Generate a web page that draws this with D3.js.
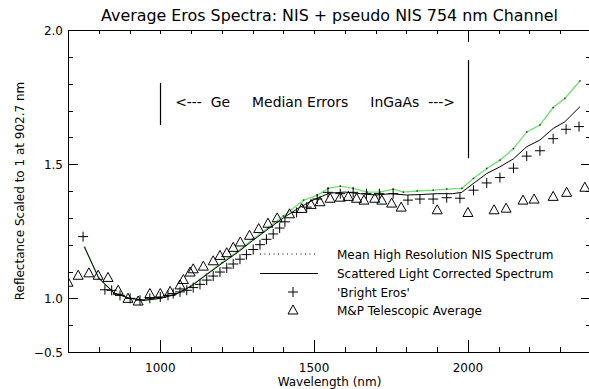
<!DOCTYPE html>
<html><head><meta charset="utf-8">
<script src="https://cdn.jsdelivr.net/npm/d3@7"></script>
<style>body{margin:0;background:#fff}svg{display:block}text{font-family:"DejaVu Sans",sans-serif;fill:#000}</style>
</head><body>
<svg id="c" width="589" height="389"></svg>
<script>
// ---- data ----
const titleText = "Average Eros Spectra: NIS + pseudo NIS 754 nm Channel";
const xLabel = "Wavelength (nm)";
const yLabel = "Reflectance Scaled to 1 at 902.7 nm";
const xTickValues = [1000, 1500, 2000];
const xTickLabels = ["1000", "1500", "2000"];
const yTickValues = [2.0, 1.5, 1.0, 0.8];
const yTickLabels = ["2.0", "1.5", "1.0", "\u22120.5"];

// Scattered light corrected spectrum (black)
const corrW = [754,800,850,900,950,1000,1050,1100,1150,1200,1250,1300,1350,1400,1450,1500,1550,1600,1650,1700,1750,1800,1850,1900,1950,1980,2020,2061,2104,2148,2191,2234,2277,2315,2364];
const corrV = [1.19,1.075,1.02,1.0,0.993,1.0,1.015,1.045,1.088,1.13,1.17,1.215,1.258,1.3,1.337,1.368,1.392,1.396,1.39,1.385,1.39,1.385,1.387,1.39,1.39,1.395,1.43,1.465,1.49,1.52,1.565,1.59,1.633,1.658,1.714];
// Mean high resolution NIS spectrum (green)
const meanW = [754,800,850,900,950,1000,1050,1100,1150,1200,1250,1300,1350,1400,1466,1510,1546,1585,1627,1672,1714,1757,1790,1835,1887,1931,1980,2018,2061,2104,2148,2191,2234,2277,2315,2364];
const meanV = [1.19,1.075,1.02,1.0,0.993,1.0,1.015,1.047,1.09,1.133,1.174,1.22,1.263,1.307,1.366,1.384,1.41,1.418,1.41,1.396,1.396,1.407,1.396,1.40,1.403,1.407,1.41,1.447,1.484,1.515,1.558,1.62,1.646,1.711,1.745,1.81];
// 'Bright Eros' (+)
const brightW = [749,820,842,869,902,934,966,1000,1025,1042,1064,1086,1107,1129,1151,1172,1194,1216,1237,1259,1280,1302,1324,1345,1367,1388,1405,1443,1476,1510,1545,1585,1627,1670,1712,1757,1805,1844,1887,1931,1974,2018,2061,2104,2148,2191,2234,2277,2319,2361];
const brightV = [1.23,1.032,1.03,1.011,1.0,0.993,1.0,1.005,1.011,1.018,1.024,1.03,1.04,1.052,1.068,1.083,1.098,1.113,1.128,1.146,1.163,1.182,1.2,1.22,1.24,1.262,1.285,1.32,1.34,1.37,1.395,1.39,1.395,1.39,1.39,1.39,1.366,1.37,1.37,1.375,1.373,1.403,1.43,1.45,1.485,1.53,1.55,1.595,1.63,1.64];
// M&P telescopic average (triangles)
const mpW = [700,733,768,798,830,863,895,928,966,1000,1032,1064,1075,1097,1107,1140,1172,1194,1216,1237,1260,1290,1320,1350,1380,1420,1460,1490,1519,1552,1585,1611,1638,1662,1697,1720,1752,1783,1900,2000,2085,2124,2179,2215,2277,2321,2380];
const mpV = [1.06,1.086,1.095,1.086,1.078,1.03,1.0,0.99,1.018,1.018,1.026,1.05,1.07,1.098,1.11,1.12,1.14,1.16,1.17,1.19,1.21,1.235,1.26,1.28,1.30,1.315,1.335,1.35,1.36,1.373,1.377,1.38,1.373,1.366,1.373,1.366,1.355,1.34,1.33,1.32,1.33,1.336,1.366,1.37,1.38,1.395,1.414];
// Median error bars
const errLabels = ["Ge", "InGaAs"];
const errW = [1000, 2000];
const errLo = [1.646, 1.522];
const errHi = [1.802, 1.888];
const errText = "<---  Ge     Median Errors     InGaAs  --->";
const legendLabels = ["Mean High Resolution NIS Spectrum", "Scattered Light Corrected Spectrum", "'Bright Eros'", "M&P Telescopic Average"];

// ---- layout ----
const svg = d3.select("#c");
const L = 68, R = 591, T = 30, B = 352;
const x = d3.scaleLinear().domain([700, 2400]).range([L, R]);
const y = d3.scaleLinear().domain([0.8, 2.0]).range([B, T]);
const green = "#6ce26c";

svg.append("defs").append("clipPath").attr("id","clip")
  .append("rect").attr("x",L).attr("y",T).attr("width",R-L).attr("height",B-T);

// frame
const g = svg.append("g").attr("stroke","#000").attr("shape-rendering","crispEdges");
g.append("line").attr("x1",L).attr("x2",R).attr("y1",T).attr("y2",T).attr("stroke","#000");
g.append("line").attr("x1",L).attr("x2",R).attr("y1",B).attr("y2",B).attr("stroke","#000");
g.append("line").attr("x1",L).attr("x2",L).attr("y1",T).attr("y2",B).attr("stroke","#000");
g.append("line").attr("x1",R).attr("x2",R).attr("y1",T).attr("y2",B).attr("stroke","#000");

const minorX = d3.range(800, 2400, 100);
const minorY = d3.range(0.9, 2.0, 0.1).map(v => +v.toFixed(2));
const isMajX = v => xTickValues.includes(v);
const isMajY = v => [1.0, 1.5].includes(v);
minorX.forEach(v => {
  const xx = Math.round(x(v)) + 0.5;
  g.append("line").attr("x1",xx).attr("x2",xx).attr("y1",B).attr("y2",B-(isMajX(v)?12:5)).attr("stroke","#000");
  g.append("line").attr("x1",xx).attr("x2",xx).attr("y1",T).attr("y2",T+(v===2000?12:4)).attr("stroke","#000");
});
minorY.forEach(v => {
  const yy = Math.round(y(v)) + 0.5;
  g.append("line").attr("x1",L).attr("x2",L+(isMajY(v)?10:5)).attr("y1",yy).attr("y2",yy).attr("stroke","#000");
  g.append("line").attr("x1",R).attr("x2",R-(isMajY(v)?10:5)).attr("y1",yy).attr("y2",yy).attr("stroke","#000");
});

// tick labels
xTickValues.forEach((v,i) => svg.append("text").attr("x",x(v)).attr("y",372).attr("text-anchor","middle").attr("font-size",12).text(xTickLabels[i]));
yTickValues.forEach((v,i) => svg.append("text").attr("x",63).attr("y",y(v)+4.5).attr("text-anchor","end").attr("font-size",12).text(yTickLabels[i]));

// titles
const tt = svg.append("text").attr("x",(L+R)/2).attr("y",21).attr("text-anchor","middle").attr("font-size",15).text(titleText);
const tw = tt.node().getComputedTextLength();
tt.attr("font-size", 15*457/tw);
svg.append("text").attr("x",(L+R)/2).attr("y",386).attr("text-anchor","middle").attr("font-size",12).text(xLabel);
svg.append("text").attr("transform","translate(24,191) rotate(-90)").attr("text-anchor","middle").attr("font-size",12).text(yLabel);

// data
const pc = svg.append("g").attr("clip-path","url(#clip)");
const line = d3.line().x(d => x(d[0])).y(d => y(d[1]));
const meanPts = meanW.map((w,i) => [w, meanV[i]]);
const corrPts = corrW.map((w,i) => [w, corrV[i]]);
pc.append("path").datum(meanPts).attr("d",line).attr("fill","none").attr("stroke",green).attr("stroke-width",1.3);
pc.append("path").datum(corrPts).attr("d",line).attr("fill","none").attr("stroke","#000").attr("stroke-width",1);
pc.selectAll(".md").data(meanPts).join("rect").attr("x",d=>x(d[0])-0.75).attr("y",d=>y(d[1])-0.75).attr("width",1.5).attr("height",1.5).attr("fill","#333");

const plus = "M-5,0H5M0,-5V5";
const tri = "M0,-5L5,4L-5,4Z";
pc.selectAll(".pl").data(brightW.map((w,i)=>[w,brightV[i]])).join("path")
  .attr("transform",d=>`translate(${x(d[0])},${y(d[1])})`).attr("d",plus).attr("stroke","#000").attr("fill","none");
pc.selectAll(".tr").data(mpW.map((w,i)=>[w,mpV[i]])).join("path")
  .attr("transform",d=>`translate(${x(d[0])},${y(d[1])})`).attr("d",tri).attr("stroke","#000").attr("fill","none");

// median error bars
errW.forEach((w,i) => {
  svg.append("line").attr("x1",Math.round(x(w))+0.5).attr("x2",Math.round(x(w))+0.5).attr("y1",y(errLo[i])).attr("y2",y(errHi[i])).attr("stroke","#000").attr("stroke-width",1.2);
});
const et = svg.append("text").attr("x",315).attr("y",107).attr("text-anchor","middle").attr("font-size",11).attr("xml:space","preserve").style("white-space","pre").text(errText);
const ew = et.node().getComputedTextLength();
et.attr("font-size", 11*280/ew);

// legend
const legY = [254, 273, 292, 310];
svg.append("line").attr("x1",260).attr("x2",318).attr("y1",legY[0]).attr("y2",legY[0]).attr("stroke","#000").attr("stroke-dasharray","1,3.5");
svg.append("line").attr("x1",260).attr("x2",318).attr("y1",legY[1]+0.5).attr("y2",legY[1]+0.5).attr("stroke","#000");
svg.append("path").attr("transform",`translate(293,${legY[2]})`).attr("d",plus).attr("stroke","#000");
svg.append("path").attr("transform",`translate(293,${legY[3]})`).attr("d",tri).attr("stroke","#000").attr("fill","none");
legendLabels.forEach((s,i) => svg.append("text").attr("x",337).attr("y",legY[i]+4.5).attr("font-size",12).text(s));
</script>
</body></html>
